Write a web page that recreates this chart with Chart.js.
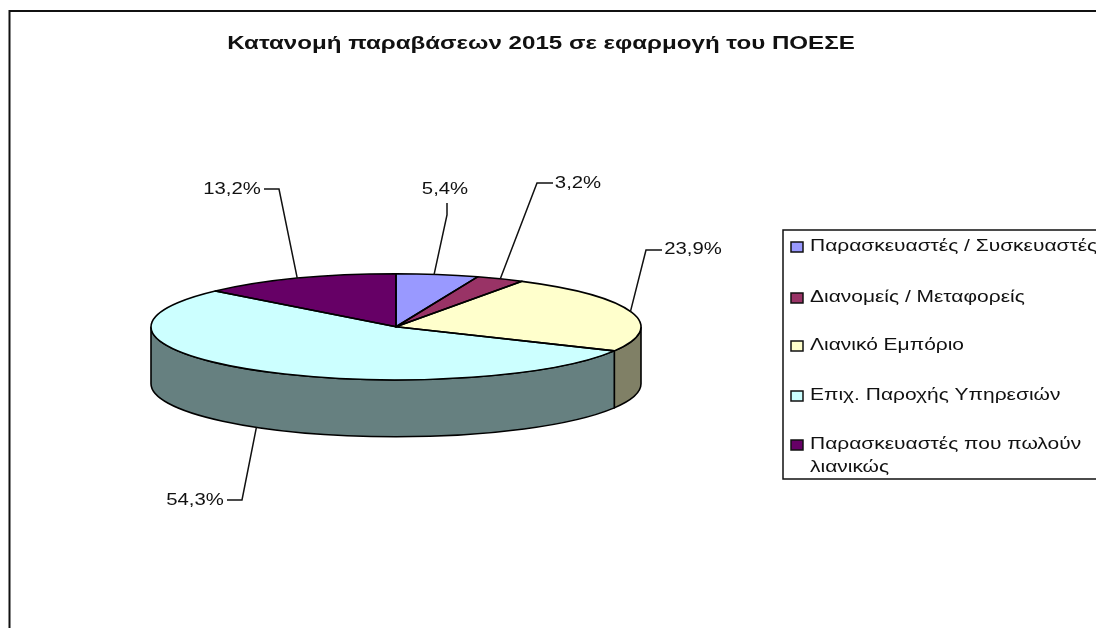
<!DOCTYPE html>
<html><head><meta charset="utf-8">
<style>html,body{margin:0;padding:0;background:#fff;overflow:hidden}canvas{display:block}</style>
<script src="https://cdn.jsdelivr.net/npm/chart.js@4/dist/chart.umd.min.js"></script>
</head><body>
<canvas id="c" width="1096" height="628"></canvas>
<script>
const titleText = "Κατανομή παραβάσεων 2015 σε εφαρμογή του ΠΟΕΣΕ";
const categories = ["Παρασκευαστές / Συσκευαστές","Διανομείς / Μεταφορείς","Λιανικό Εμπόριο","Επιχ. Παροχής Υπηρεσιών","Παρασκευαστές που πωλούν λιανικώς"];
const values = [5.4,3.2,23.9,54.3,13.2];
const colors = ["#9999FF","#993366","#FFFFCC","#CCFFFF","#660066"];
const sideColors = ["#4D4D80","#4D1A33","#808066","#668080","#330033"];
const legendLines = [[categories[0]],[categories[1]],[categories[2]],[categories[3]],["Παρασκευαστές που πωλούν","λιανικώς"]];

const FONT = '"Liberation Sans", Arial, sans-serif';
const squash = 53/245, depth = 57, rimFactor = [0.92,1,0.995,1,1];
const textStretch = 1.31, labelStretch = 1.27, titleStretch = 1.34, titleCenter = 541;
// label centre, elbow (annotation layout)
const labelPos = [
  {x:445,y:190,start:[447,203],elbow:[447,215]},
  {x:578,y:184,start:[553,183],elbow:[537,183]},
  {x:693,y:250,start:[662,250],elbow:[646,250]},
  {x:195,y:501,start:[227,500],elbow:[242,500]},
  {x:232,y:190,start:[264,189],elbow:[279,189]}
];
const legendBox = {left:783,top:230,bottom:479,markX:791,textX:810,rows:[247,298,346,396,445],lineGap:23};

function stretchedText(ctx,t,x,y,k){
  ctx.save(); ctx.translate(x,y); ctx.scale(k,1); ctx.fillText(t,0,0); ctx.restore();
}

const pie3d = {
  id:'pie3d',
  afterLayout(chart){
    const t = chart.titleBlock;
    t.left = 0; t.right = 2*titleCenter; t.top = 33; t.bottom = 59;
    if(!t._stretched){
      const orig = t.draw;
      t.draw = function(a){
        const c = chart.ctx; c.save();
        c.translate(titleCenter,0); c.scale(titleStretch,1); c.translate(-titleCenter,0);
        orig.call(this,a); c.restore();
      };
      t._stretched = true;
    }
  },
  beforeDatasetsDraw(chart){
    const ctx = chart.ctx, arcs = chart.getDatasetMeta(0).data;
    const cx = arcs[0].x, cy = arcs[0].y, r = arcs[0].outerRadius, ry = r*squash;
    ctx.save();
    ctx.strokeStyle='#111'; ctx.lineWidth=2;
    ctx.beginPath(); ctx.moveTo(9.5,640); ctx.lineTo(9.5,11); ctx.lineTo(1100,11); ctx.stroke();
    ctx.restore();
    arcs.forEach((a,i)=>{
      const s = Math.max(a.startAngle,0), e = Math.min(a.endAngle,Math.PI);
      if(e<=s) return;
      ctx.save();
      ctx.beginPath();
      ctx.ellipse(cx,cy,r,ry,0,s,e);
      ctx.ellipse(cx,cy+depth,r,ry,0,e,s,true);
      ctx.closePath();
      ctx.fillStyle = sideColors[i]; ctx.fill();
      ctx.strokeStyle='#000'; ctx.lineWidth=1.6; ctx.stroke();
      ctx.restore();
    });
    ctx.save();
    ctx.translate(0,cy); ctx.scale(1,squash); ctx.translate(0,-cy);
  },
  afterDatasetsDraw(chart){
    const ctx = chart.ctx; ctx.restore();
    const arcs = chart.getDatasetMeta(0).data;
    const cx = arcs[0].x, cy = arcs[0].y, r = arcs[0].outerRadius, ry = r*squash;
    arcs.forEach(a=>{
      ctx.save();
      ctx.beginPath();
      ctx.moveTo(cx,cy);
      ctx.ellipse(cx,cy,r,ry,0,a.startAngle,a.endAngle);
      ctx.closePath();
      ctx.strokeStyle='#000'; ctx.lineWidth=1.6; ctx.lineJoin='round'; ctx.stroke();
      ctx.restore();
    });
    ctx.save();
    ctx.font='16px '+FONT; ctx.textBaseline='middle'; ctx.textAlign='center';
    arcs.forEach((a,i)=>{
      const mid=(a.startAngle+a.endAngle)/2, p=labelPos[i], f=rimFactor[i];
      const norm=((mid%(2*Math.PI))+2*Math.PI)%(2*Math.PI);
      const ax=cx+Math.cos(mid)*r*f;
      const ay=cy+Math.sin(mid)*ry+(norm>0&&norm<Math.PI?depth:0);
      ctx.strokeStyle='#111'; ctx.lineWidth=1.5;
      ctx.beginPath(); ctx.moveTo(p.start[0],p.start[1]); ctx.lineTo(p.elbow[0],p.elbow[1]); ctx.lineTo(ax,ay); ctx.stroke();
      ctx.fillStyle='#111';
      stretchedText(ctx,values[i].toFixed(1).replace('.',',')+'%',p.x,p.y,labelStretch);
    });
    ctx.restore();
    ctx.save();
    const L=legendBox;
    ctx.strokeStyle='#111'; ctx.lineWidth=1.5;
    ctx.beginPath(); ctx.moveTo(1100,L.top); ctx.lineTo(L.left,L.top); ctx.lineTo(L.left,L.bottom); ctx.lineTo(1100,L.bottom); ctx.stroke();
    ctx.font='16px '+FONT; ctx.textBaseline='middle'; ctx.textAlign='left';
    legendLines.forEach((lines,i)=>{
      const y=L.rows[i];
      ctx.fillStyle=colors[i]; ctx.fillRect(L.markX,y-5,12,10);
      ctx.strokeStyle='#111'; ctx.lineWidth=1.5; ctx.strokeRect(L.markX,y-5,12,10);
      ctx.fillStyle='#111';
      lines.forEach((t,j)=>stretchedText(ctx,t,L.textX,y+j*L.lineGap,textStretch));
    });
    ctx.restore();
  }
};

new Chart(document.getElementById('c'),{
  type:'pie',
  data:{labels:categories,datasets:[{data:values,backgroundColor:colors,borderWidth:0,clip:false}]},
  options:{
    responsive:false,animation:false,
    layout:{padding:{left:151,right:455,top:30,bottom:26}},
    plugins:{
      legend:{display:false},tooltip:{enabled:false},
      title:{display:true,text:titleText,color:'#111',padding:0,font:{family:FONT,size:18,weight:'bold'}}
    }
  },
  plugins:[pie3d]
});
</script>
</body></html>
